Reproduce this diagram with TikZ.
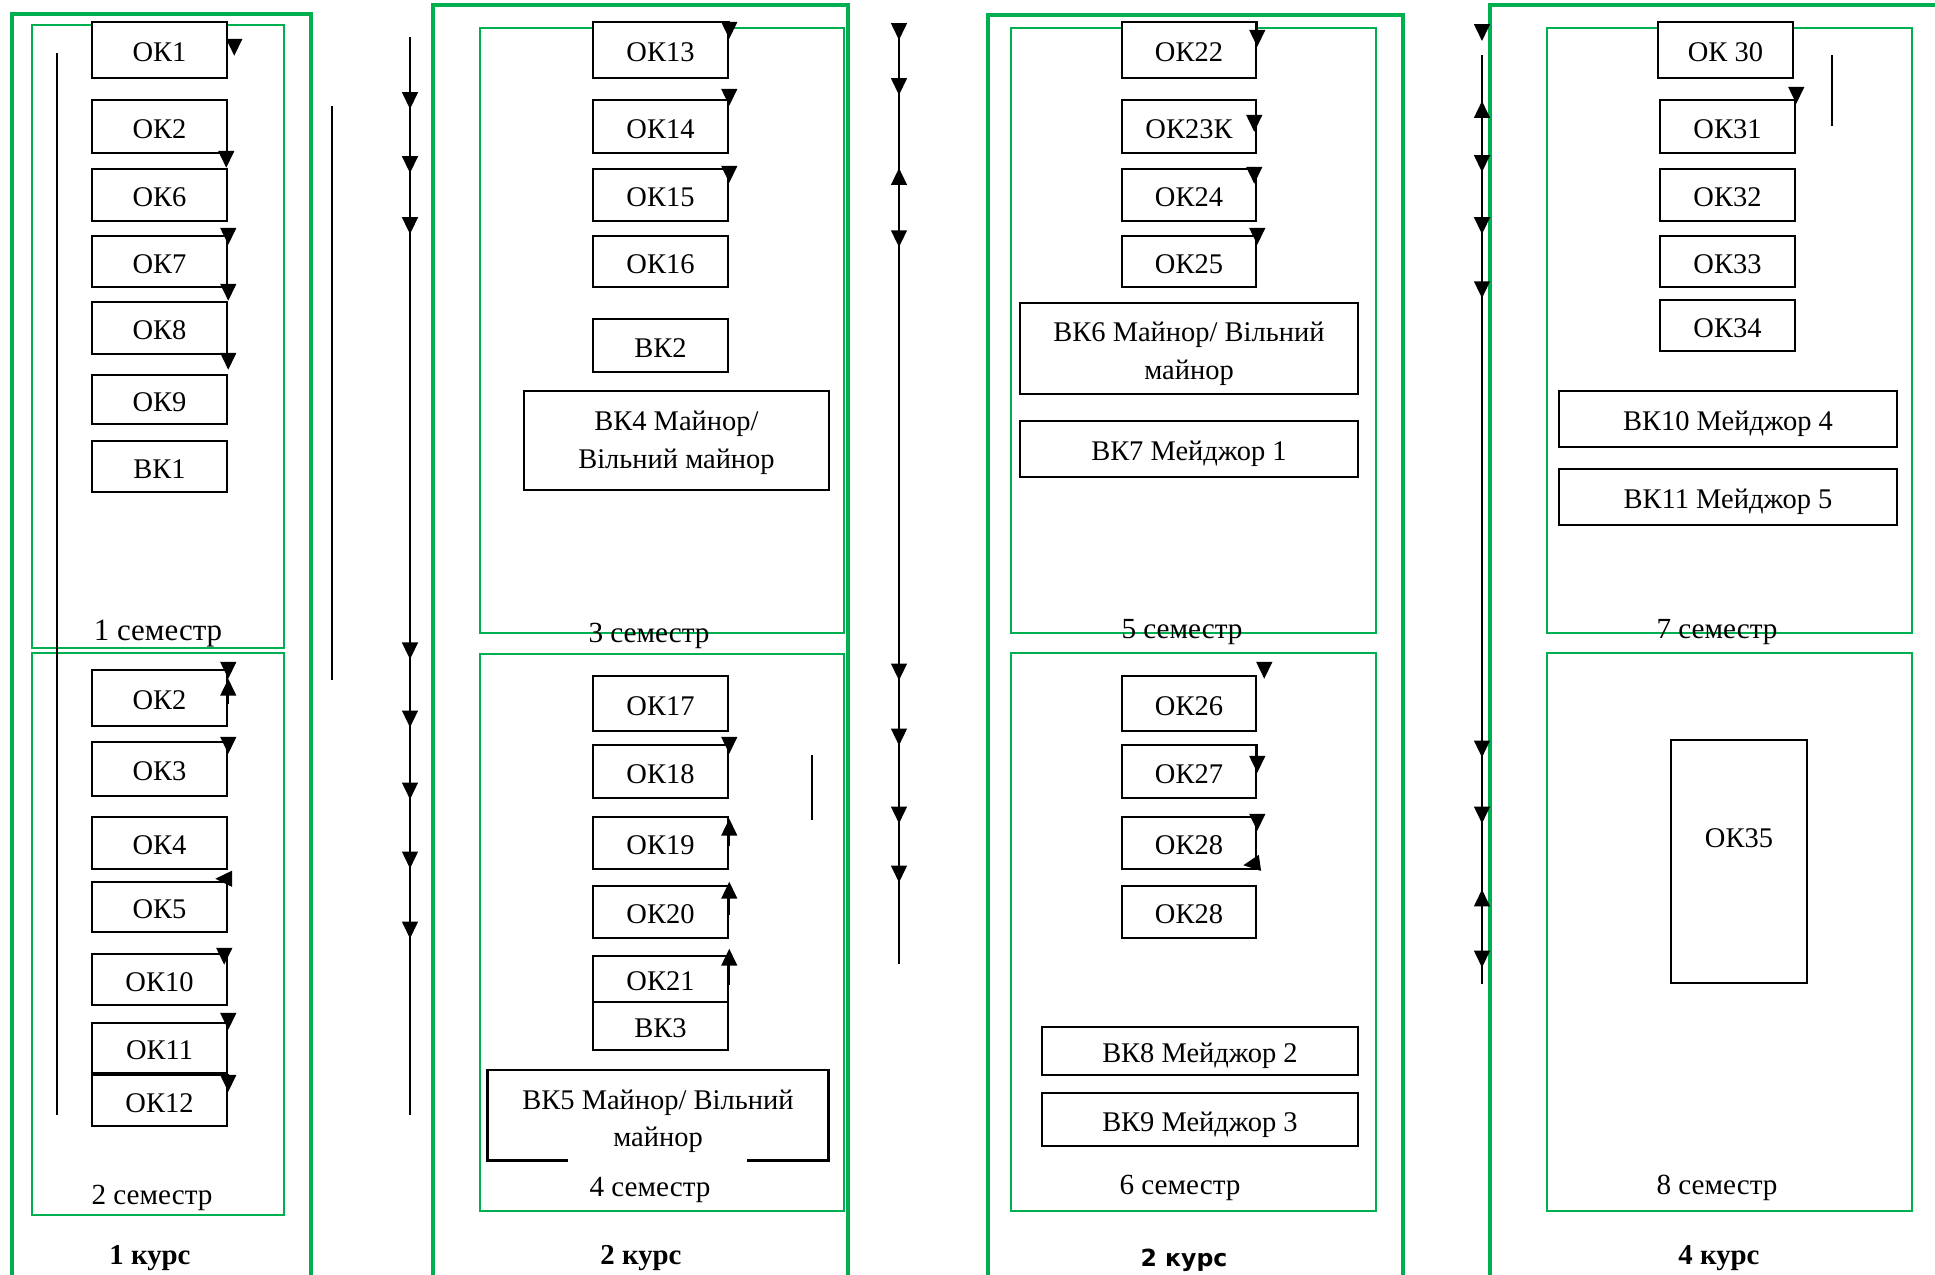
\documentclass[tikz,border=0pt]{standalone}
\usepackage{fontspec}
\setmainfont{Liberation Serif}
\newfontfamily\dejavu{DejaVu Sans}
\usetikzlibrary{arrows.meta, decorations.markings}
\definecolor{zelen}{RGB}{0,176,80}

\tikzset{
  trikut/.tip={Triangle[width=4.5pt, length=4.8pt]},
  kurs/.style={draw=zelen, line width=1.25pt},
  semestr/.style={draw=zelen, line width=0.6pt},
  ramka/.style={draw, fill=white, line width=0.7pt, inner sep=0pt,
    minimum width=1.35cm, align=center, font=\fontsize{8.1}{10.8}\selectfont},
  dysc/.style={ramka, text height=0.23cm, text depth=0pt},
  pidpys/.style={inner sep=0pt, anchor=base, font=\fontsize{8.3}{10}\selectfont},
  kursnazva/.style={inner sep=0pt, anchor=base, font=\fontsize{8.2}{10}\selectfont\bfseries},
  liniia/.style={line width=0.5pt},
  kut/.style={line width=0.5pt, -{trikut}},
  strilky/.style={liniia, postaction={decorate}, decoration={markings, #1}},
}

\begin{document}
\begin{tikzpicture}[x=0.01cm, y=-0.01cm]
  \useasboundingbox (0,0) rectangle (1935,1275);
  \clip (0,0) rectangle (1935,1275);

  % --- рамки курсів ------------------------------------------------------
  \draw[kurs] (12,14) rectangle (311,1290);
  \draw[kurs] (433,5) rectangle (848,1290);
  \draw[kurs] (988,15) rectangle (1403,1290);
  \draw[kurs] (1490,5) rectangle (1960,1290);

  % --- рамки семестрів ---------------------------------------------------
  \draw[semestr] (32,25) rectangle (284,648);
  \draw[semestr] (32,653) rectangle (284,1215);
  \draw[semestr] (480,28) rectangle (844,633);
  \draw[semestr] (480,654) rectangle (844,1211);
  \draw[semestr] (1011,28) rectangle (1376,633);
  \draw[semestr] (1011,653) rectangle (1376,1211);
  \draw[semestr] (1547,28) rectangle (1912,633);
  \draw[semestr] (1547,653) rectangle (1912,1211);

  % --- підписи семестрів і курсів ----------------------------------------
  \node[pidpys, font=\fontsize{8.8}{10}\selectfont] (s1) at (158,640) {1 семестр};
  \node[pidpys] (s2) at (152,1204) {2 семестр};
  \node[pidpys] (s3) at (649,642) {3 семестр};
  \node[pidpys] (s4) at (650,1196) {4 семестр};
  \node[pidpys] (s5) at (1182,638) {5 семестр};
  \node[pidpys] (s6) at (1180,1194) {6 семестр};
  \node[pidpys] (s7) at (1717,638) {7 семестр};
  \node[pidpys] (s8) at (1717,1194) {8 семестр};

  \node[kursnazva] (k1) at (150,1264) {1 курс};
  \node[kursnazva] (k2) at (641,1264) {2 курс};
  \node[kursnazva, font=\fontsize{6.7}{8}\selectfont\dejavu\bfseries] (k3) at (1184,1266) {2 курс};
  \node[kursnazva] (k4) at (1719,1264) {4 курс};

  % --- 1 курс --------------------------------------------------------------
  \node[dysc, minimum height=0.56cm] (ok1) at (159.5,50) {ОК1};
  \node[dysc, minimum height=0.53cm] (ok2a) at (159.5,126.5) {ОК2};
  \node[dysc, minimum height=0.52cm] (ok6) at (159.5,195) {ОК6};
  \node[dysc, minimum height=0.51cm] (ok7) at (159.5,261.5) {ОК7};
  \node[dysc, minimum height=0.52cm] (ok8) at (159.5,328) {ОК8};
  \node[dysc, minimum height=0.49cm] (ok9) at (159.5,399.5) {ОК9};
  \node[dysc, minimum height=0.51cm] (vk1) at (159.5,466.5) {ВК1};
  \node[dysc, minimum height=0.56cm] (ok2b) at (159.5,698) {ОК2};
  \node[dysc, minimum height=0.54cm] (ok3) at (159.5,769) {ОК3};
  \node[dysc, minimum height=0.52cm] (ok4) at (159.5,843) {ОК4};
  \node[dysc, minimum height=0.50cm] (ok5) at (159.5,907) {ОК5};
  \node[dysc, minimum height=0.51cm] (ok10) at (159.5,979.5) {ОК10};
  \node[dysc, minimum height=0.50cm] (ok11) at (159.5,1048) {ОК11};
  \node[dysc, minimum height=0.51cm] (ok12) at (159.5,1100.5) {ОК12};

  % --- 2 курс --------------------------------------------------------------
  \node[dysc, minimum height=0.56cm] (ok13) at (660.5,50) {ОК13};
  \node[dysc, minimum height=0.53cm] (ok14) at (660.5,126.5) {ОК14};
  \node[dysc, minimum height=0.52cm] (ok15) at (660.5,195) {ОК15};
  \node[dysc, minimum height=0.51cm] (ok16) at (660.5,261.5) {ОК16};
  \node[dysc, minimum height=0.53cm] (vk2) at (660.5,345.5) {ВК2};
  \node[ramka, minimum width=3.05cm, minimum height=0.99cm] (vk4) at (676.5,440.5)
       {\rule{0pt}{0.24cm}ВК4 Майнор/\\Вільний майнор};
  \node[dysc, minimum height=0.55cm] (ok17) at (660.5,703.5) {ОК17};
  \node[dysc, minimum height=0.53cm] (ok18) at (660.5,771.5) {ОК18};
  \node[dysc, minimum height=0.52cm] (ok19) at (660.5,843) {ОК19};
  \node[dysc, minimum height=0.52cm] (ok20) at (660.5,912) {ОК20};
  \node[dysc, minimum height=0.46cm] (ok21) at (660.5,979) {ОК21};
  \node[dysc, minimum height=0.48cm] (vk3) at (660.5,1026) {ВК3};
  \node[ramka, draw=none, minimum width=3.38cm, minimum height=0.88cm] (vk5) at (658,1115)
       {\rule{0pt}{0.32cm}ВК5 Майнор/ Вільний\\майнор};
  \draw[line width=0.7pt] ([xshift=0.8cm]vk5.south west) -| (vk5.north west)
       -- (vk5.north east) |- ([xshift=-0.81cm]vk5.south east);

  % --- 3 курс --------------------------------------------------------------
  \node[dysc, minimum width=1.34cm, minimum height=0.56cm] (ok22) at (1189,50) {ОК22};
  \node[dysc, minimum width=1.34cm, minimum height=0.53cm] (ok23) at (1189,126.5) {ОК23К};
  \node[dysc, minimum width=1.34cm, minimum height=0.52cm] (ok24) at (1189,195) {ОК24};
  \node[dysc, minimum width=1.34cm, minimum height=0.51cm] (ok25) at (1189,261.5) {ОК25};
  \node[ramka, minimum width=3.38cm, minimum height=0.91cm] (vk6) at (1189,348.5)
       {\rule{0pt}{0.30cm}ВК6 Майнор/ Вільний\\майнор};
  \node[dysc, minimum width=3.38cm, minimum height=0.56cm] (vk7) at (1189,449) {ВК7 Мейджор 1};
  \node[dysc, minimum width=1.34cm, minimum height=0.55cm] (ok26) at (1189,703.5) {ОК26};
  \node[dysc, minimum width=1.34cm, minimum height=0.53cm] (ok27) at (1189,771.5) {ОК27};
  \node[dysc, minimum width=1.34cm, minimum height=0.52cm] (ok28a) at (1189,843) {ОК28};
  \node[dysc, minimum width=1.34cm, minimum height=0.52cm] (ok28b) at (1189,912) {ОК28};
  \node[dysc, minimum width=3.16cm, minimum height=0.48cm] (vk8) at (1200,1051) {ВК8 Мейджор 2};
  \node[dysc, minimum width=3.16cm, minimum height=0.53cm] (vk9) at (1200,1119.5) {ВК9 Мейджор 3};

  % --- 4 курс --------------------------------------------------------------
  \node[dysc, minimum height=0.56cm] (ok30) at (1725.5,50) {ОК 30};
  \node[dysc, minimum height=0.53cm] (ok31) at (1727.5,126.5) {ОК31};
  \node[dysc, minimum height=0.52cm] (ok32) at (1727.5,195) {ОК32};
  \node[dysc, minimum height=0.51cm] (ok33) at (1727.5,261.5) {ОК33};
  \node[dysc, minimum height=0.51cm] (ok34) at (1727.5,325.5) {ОК34};
  \node[dysc, minimum width=3.38cm, minimum height=0.56cm] (vk10) at (1728,419) {ВК10 Мейджор 4};
  \node[dysc, minimum width=3.38cm, minimum height=0.56cm] (vk11) at (1728,497) {ВК11 Мейджор 5};
  \node[ramka, minimum width=1.36cm, minimum height=2.43cm] (ok35) at (1739,861.5)
       {\raisebox{0.46cm}{ОК35}};

  % --- лінії зі стрілками між курсами -------------------------------------
  \coordinate (a1t) at (410,37);   \coordinate (a1b) at (410,1115);
  \coordinate (a2t) at (899,27);   \coordinate (a2b) at (899,964);
  \coordinate (a3t) at (1482,55);  \coordinate (a3b) at (1482,984);
  \draw[strilky={mark=at position 0.72cm with {\arrow{trikut}},
                 mark=at position 1.36cm with {\arrow{trikut}},
                 mark=at position 1.97cm with {\arrow{trikut}},
                 mark=at position 6.22cm with {\arrow{trikut}},
                 mark=at position 6.90cm with {\arrow{trikut}},
                 mark=at position 7.62cm with {\arrow{trikut}},
                 mark=at position 8.31cm with {\arrow{trikut}},
                 mark=at position 9.01cm with {\arrow{trikut}}}] (a1t) -- (a1b);
  \draw[strilky={mark=at position 0.13cm with {\arrow{trikut}},
                 mark=at position 0.68cm with {\arrow{trikut}},
                 mark=at position 1.41cm with {\arrowreversed{trikut}},
                 mark=at position 2.20cm with {\arrow{trikut}},
                 mark=at position 6.53cm with {\arrow{trikut}},
                 mark=at position 7.18cm with {\arrow{trikut}},
                 mark=at position 7.96cm with {\arrow{trikut}},
                 mark=at position 8.55cm with {\arrow{trikut}}}] (a2t) -- (a2b);
  \draw[strilky={mark=at position 0.46cm with {\arrowreversed{trikut}},
                 mark=at position 1.17cm with {\arrow{trikut}},
                 mark=at position 1.79cm with {\arrow{trikut}},
                 mark=at position 2.43cm with {\arrow{trikut}},
                 mark=at position 7.02cm with {\arrow{trikut}},
                 mark=at position 7.68cm with {\arrow{trikut}},
                 mark=at position 8.34cm with {\arrowreversed{trikut}},
                 mark=at position 9.12cm with {\arrow{trikut}}}] (a3t) -- (a3b);
  \draw[kut] ([yshift=0.16cm]a3t) -- ([yshift=0.14cm]a3t);

  % --- окремі лінії без стрілок --------------------------------------------
  \coordinate (l1t) at (57,53);    \coordinate (l1b) at (57,1115);
  \coordinate (l2t) at (332,106);  \coordinate (l2b) at (332,680);
  \coordinate (l3t) at (812,755);  \coordinate (l3b) at (812,820);
  \coordinate (l4t) at (1832,55);  \coordinate (l4b) at (1832,126);
  \draw[liniia] (l1t) -- (l1b);
  \draw[liniia] (l2t) -- (l2b);
  \draw[liniia] (l3t) -- (l3b);
  \draw[liniia] (l4t) -- (l4b);

  % --- вістря біля дисциплін -------------------------------------------------
  \draw[kut] ([xshift=0.06cm, yshift=-0.33cm]ok1.north east) -- ([xshift=0.06cm, yshift=-0.35cm]ok1.north east);
  \draw[kut] ([xshift=-0.02cm, yshift=0.02cm]ok6.north east) -- ([xshift=-0.02cm]ok6.north east);
  \draw[kut] (ok7.north east) -- ([yshift=-0.10cm]ok7.north east);
  \draw[kut] ([yshift=0.02cm]ok8.north east) -- (ok8.north east);
  \draw[kut] ([yshift=0.06cm]ok9.north east) -- ([yshift=0.04cm]ok9.north east);
  \draw[kut] (ok2b.north east) -- ([yshift=-0.10cm]ok2b.north east);
  \draw[kut] ([yshift=-0.35cm]ok2b.north east) -- ([yshift=-0.10cm]ok2b.north east);
  \draw[kut] (ok3.north east) -- ([yshift=-0.13cm]ok3.north east);
  \draw[kut] ([yshift=0.02cm]ok5.north east) -- ([xshift=-0.13cm, yshift=0.02cm]ok5.north east);
  \draw[kut] ([xshift=-0.04cm, yshift=-0.10cm]ok10.north east) -- ([xshift=-0.04cm, yshift=-0.12cm]ok10.north east);
  \draw[kut] (ok11.north east) -- ([yshift=-0.08cm]ok11.north east);
  \draw[kut] (ok12.north east) -- ([yshift=-0.18cm]ok12.north east);

  \draw[kut] (ok13.north east) -- ([yshift=-0.18cm]ok13.north east);
  \draw[kut] (ok14.north east) -- ([yshift=-0.07cm]ok14.north east);
  \draw[kut] (ok15.north east) -- ([yshift=-0.15cm]ok15.north east);
  \draw[kut] (ok18.north east) -- ([yshift=-0.10cm]ok18.north east);
  \draw[kut] ([yshift=-0.3cm]ok19.north east) -- ([yshift=-0.03cm]ok19.north east);
  \draw[kut] ([yshift=-0.3cm]ok20.north east) -- ([yshift=0.03cm]ok20.north east);
  \draw[kut] ([yshift=-0.3cm]ok21.north east) -- ([yshift=0.06cm]ok21.north east);

  \draw[kut] (ok22.north east) -- ([yshift=-0.26cm]ok22.north east);
  \draw[kut] ([xshift=-0.03cm, yshift=-0.31cm]ok23.north east) -- ([xshift=-0.03cm, yshift=-0.33cm]ok23.north east);
  \draw[kut] ([xshift=-0.03cm, yshift=-0.14cm]ok24.north east) -- ([xshift=-0.03cm, yshift=-0.16cm]ok24.north east);
  \draw[kut] (ok25.north east) -- ([yshift=-0.10cm]ok25.north east);
  \draw[kut] ([xshift=0.07cm, yshift=-0.02cm]ok26.north east) -- ([xshift=0.07cm, yshift=-0.04cm]ok26.north east);
  \draw[kut] (ok27.north east) -- ([yshift=-0.29cm]ok27.north east);
  \draw[kut] (ok28a.north east) -- ([yshift=-0.15cm]ok28a.north east);
  \draw[kut] ([yshift=0.07cm]ok28a.south east) -- ([xshift=-0.14cm, yshift=0.05cm]ok28a.south east);

  \draw[kut] (ok31.north east) -- ([yshift=-0.05cm]ok31.north east);
\end{tikzpicture}
\end{document}
